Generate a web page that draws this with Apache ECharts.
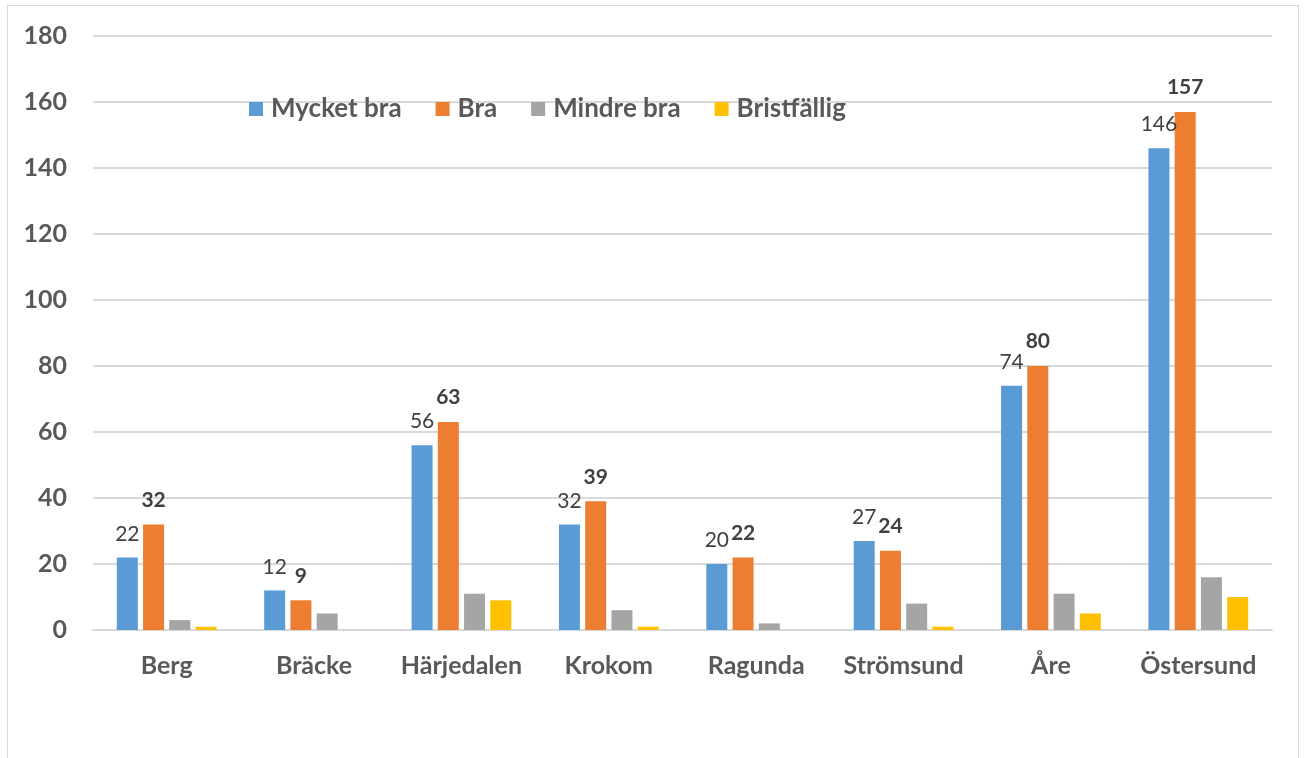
<!DOCTYPE html>
<html>
<head>
<meta charset="utf-8">
<script src="https://cdn.jsdelivr.net/npm/echarts@6/dist/echarts.min.js"></script>
<style>
html,body{margin:0;padding:0;background:#fff;}
#frame{position:absolute;left:7px;top:5px;width:1292px;height:800px;border:1px solid #d9d9d9;box-sizing:border-box;}
#chart{position:absolute;left:0;top:0;width:1307px;height:758px;}
</style>
</head>
<body>
<div id="frame"></div>
<div id="chart"></div>
<script>
const categories = ['Berg','Bräcke','Härjedalen','Krokom','Ragunda','Strömsund','Åre','Östersund'];
const mycketBra = [22, 12, 56, 32, 20, 27, 74, 146];
const bra = [32, 9, 63, 39, 22, 24, 80, 157];
const mindreBra = [3, 5, 11, 6, 2, 8, 11, 16];
const bristfallig = [1, 0, 9, 1, 0, 1, 5, 10];
const seriesNames = ['Mycket bra','Bra','Mindre bra','Bristfällig'];
const yTicks = [0, 20, 40, 60, 80, 100, 120, 140, 160, 180];

const FONT = 'Lato';
const chart = echarts.init(document.getElementById('chart'));
function barSeries(name, data, color, label) {
  return {
    name: name, type: 'bar', data: data, barWidth: 21, barGap: '25%',
    itemStyle: { color: color },
    label: label,
    emphasis: { disabled: true }
  };
}
chart.setOption({
  animation: false,
  color: ['#5B9BD5','#ED7D31','#A5A5A5','#FFC000'],
  legend: {
    data: seriesNames,
    left: 244, top: 91,
    itemWidth: 14, itemHeight: 14, itemGap: 34,
    icon: 'rect',
    textStyle: { fontFamily: FONT, fontWeight: 'bold', fontSize: 26, color: '#595959', padding: [0,0,0,3] }
  },
  grid: { left: 93, right: 35, top: 36, bottom: 128 },
  xAxis: {
    type: 'category', data: categories,
    axisLine: { lineStyle: { color: '#d9d9d9', width: 2 } },
    axisTick: { show: false },
    axisLabel: { interval: 0, hideOverlap: false, fontFamily: FONT, fontWeight: 'bold', fontSize: 25, color: '#595959', margin: 23 }
  },
  yAxis: {
    type: 'value', min: yTicks[0], max: yTicks[yTicks.length-1], interval: 20,
    axisLine: { show: false }, axisTick: { show: false },
    splitLine: { lineStyle: { color: '#d9d9d9', width: 2 } },
    axisLabel: { fontFamily: FONT, fontWeight: 'bold', fontSize: 25, color: '#595959', margin: 26 }
  },
  series: [
    barSeries(seriesNames[0], mycketBra, '#5B9BD5', { show: true, position: 'top', distance: 13, fontFamily: FONT, fontSize: 21, color: '#404040' }),
    barSeries(seriesNames[1], bra, '#ED7D31', { show: true, position: 'top', distance: 14, fontFamily: FONT, fontWeight: 'bold', fontSize: 21, color: '#404040' }),
    barSeries(seriesNames[2], mindreBra, '#A5A5A5', { show: false }),
    barSeries(seriesNames[3], bristfallig, '#FFC000', { show: false })
  ]
});
</script>
</body>
</html>
